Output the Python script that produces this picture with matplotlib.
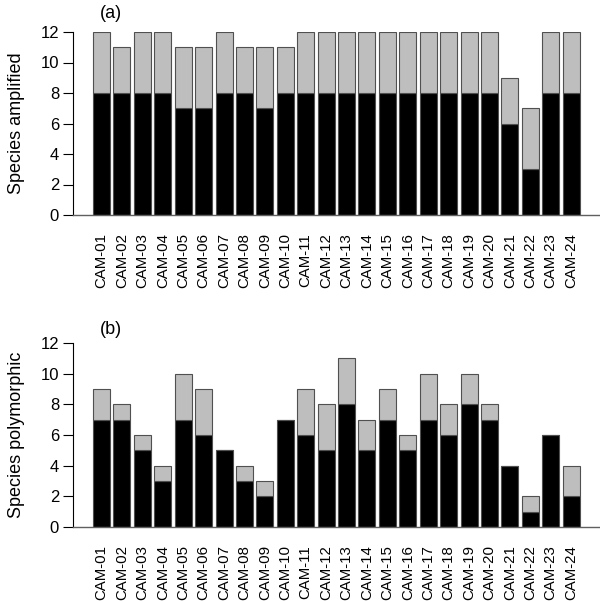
import matplotlib
matplotlib.use("Agg")
import matplotlib.pyplot as plt
import numpy as np

plt.rcParams['font.family'] = ['Liberation Sans', 'DejaVu Sans']

labels = ["CAM-%02d" % i for i in range(1, 25)]

# panel (a): species amplified
amp_black = [8, 8, 8, 8, 7, 7, 8, 8, 7, 8, 8, 8, 8, 8, 8, 8, 8, 8, 8, 8, 6, 3, 8, 8]
amp_total = [12, 11, 12, 12, 11, 11, 12, 11, 11, 11, 12, 12, 12, 12, 12, 12, 12, 12, 12, 12, 9, 7, 12, 12]

# panel (b): species polymorphic
poly_black = [7, 7, 5, 3, 7, 6, 5, 3, 2, 7, 6, 5, 8, 5, 7, 5, 7, 6, 8, 7, 4, 1, 6, 2]
poly_total = [9, 8, 6, 4, 10, 9, 5, 4, 3, 7, 9, 8, 11, 7, 9, 6, 10, 8, 10, 8, 4, 2, 6, 4]

# R barplot style positions: width 1, space 0.2
x = 0.2 + 0.5 + 1.2 * np.arange(len(labels))

fig = plt.figure(figsize=(6, 6.01), dpi=100)


def panel(rect, black, total, ylabel, tag, tag_y):
    ax = fig.add_axes(rect)
    black = np.array(black)
    grey = np.array(total) - black
    ax.bar(x, black, width=1.0, color='black', edgecolor='#505050', linewidth=0.8)
    ax.bar(x, grey, bottom=black, width=1.0, color='#bebebe', edgecolor='#505050', linewidth=0.8)
    ax.set_xlim(-0.98, 30.0)
    ax.set_ylim(0, 12)
    ax.set_yticks(range(0, 13, 2))
    ax.set_xticks(x)
    ax.set_xticklabels(labels, rotation=90, fontsize=10.8)
    ax.tick_params(axis='x', length=0, pad=13)
    ax.tick_params(axis='y', length=7, width=0.8, labelsize=12, pad=3)
    for s in ['top', 'right']:
        ax.spines[s].set_visible(False)
    ax.spines['left'].set_bounds(0, 12)
    ax.spines['left'].set_linewidth(0.8)
    ax.spines['bottom'].set_color('#606060')
    ax.spines['bottom'].set_linewidth(1.0)
    ax.set_ylabel(ylabel, fontsize=13, labelpad=11)
    ax.text(1.25, tag_y, tag, fontsize=13, ha='center', va='bottom')
    return ax


panel([73 / 600, 1 - 215 / 601, 527 / 600, 183 / 601], amp_black, amp_total, "Species amplified", "(a)", 12.65)
panel([73 / 600, 1 - 527 / 601, 527 / 600, 184 / 601], poly_black, poly_total, "Species polymorphic", "(b)", 12.3)

fig.savefig("out.png", dpi=100)
